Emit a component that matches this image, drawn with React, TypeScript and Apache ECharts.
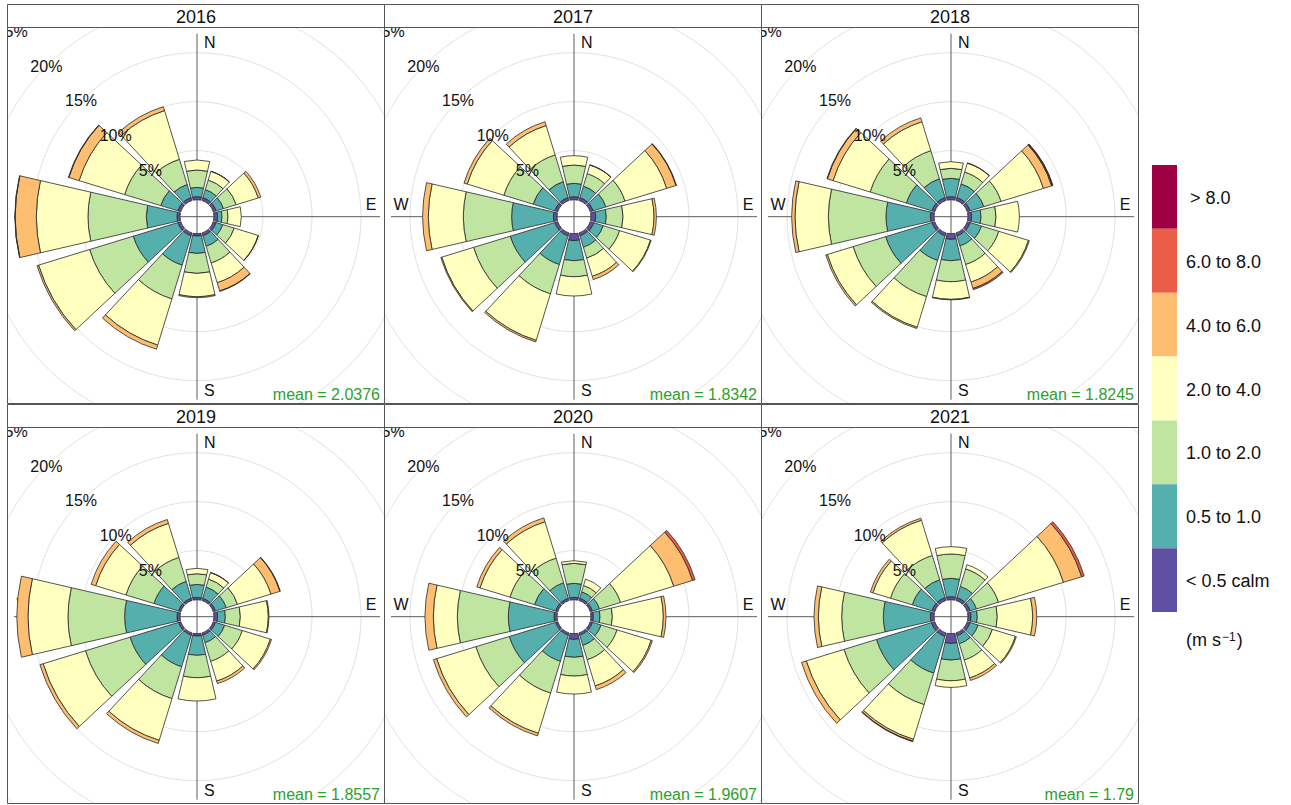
import React, { useEffect, useRef } from "react";
import * as echarts from "echarts";

const FONT = '"Liberation Sans", Arial, Helvetica, sans-serif';

const YEARS = ["2016", "2017", "2018", "2019", "2020", "2021"];
const MEANS = ["2.0376", "1.8342", "1.8245", "1.8557", "1.9607", "1.79"];
const DIRECTIONS = ["0", "30", "60", "90", "120", "150", "180", "210", "240", "270", "300", "330"];
const SPEED_BINS = ["< 0.5 calm", "0.5 to 1.0", "1.0 to 2.0", "2.0 to 4.0", "4.0 to 6.0", "6.0 to 8.0", "> 8.0"];
const BIN_COLORS = ["#5E4FA2", "#55AFAD", "#BFE5A0", "#FFFFBF", "#FDBF6F", "#EA5D47", "#9E0142"];
const RING_TICKS = [5, 10, 15, 20, 25];
const LEGEND_UNIT = "(m s{sup|\u22121})";

// frequency (%) : rows = speed bins (calm ... > 8.0), columns = directions (0 ... 330)
const FREQ_2016 = [
  [0.31, 0.31, 0.31, 0.37, 0.31, 0.31, 0.24, 0.31, 0.31, 0.31, 0.31, 0.31],
  [0.95, 0.85, 0.78, 0.45, 0.71, 1.12, 1.77, 3.13, 4.76, 3.13, 1.83, 1.39],
  [1.77, 1.02, 1.36, 0.61, 1.22, 1.77, 2.04, 3.6, 4.66, 5.95, 3.85, 2.69],
  [1.02, 0.92, 2.35, 1.36, 2.56, 2.11, 2.38, 4.93, 5.44, 5.27, 4.86, 5.2],
  [0, 0.03, 0.27, 0, 0.03, 0.88, 0.1, 0.44, 0.17, 2.16, 1.09, 0.41],
  [0, 0, 0, 0, 0, 0.04, 0, 0, 0, 0.03, 0.05, 0],
  [0, 0, 0, 0, 0, 0, 0, 0, 0, 0, 0, 0],
];
const FREQ_2017 = [
  [0.31, 0.31, 0.31, 0.48, 0.37, 0.31, 0.71, 0.31, 0.31, 0.37, 0.31, 0.31],
  [1.36, 1.22, 1.36, 1.08, 1.02, 1.22, 2.05, 3.06, 4.76, 4.26, 2.31, 1.7],
  [1.87, 1.33, 2.04, 1.71, 1.74, 1.16, 1.63, 3.13, 3.91, 4.93, 3.13, 2.85],
  [0.95, 0.92, 4.45, 3.16, 3.3, 1.94, 1.97, 4.96, 3.4, 3.57, 3.91, 3.13],
  [0, 0.03, 0.99, 0.24, 0.07, 0.34, 0, 0.17, 0.1, 0.58, 0.34, 0.41],
  [0, 0, 0.05, 0, 0, 0, 0, 0, 0, 0, 0, 0],
  [0, 0, 0, 0, 0, 0, 0, 0, 0, 0, 0, 0],
];
const FREQ_2018 = [
  [0.31, 0.31, 0.31, 0.37, 0.31, 0.31, 0.58, 0.31, 0.31, 0.37, 0.31, 0.31],
  [1.87, 1.46, 1.46, 0.96, 1.22, 1.08, 2.18, 2.62, 4.93, 4.53, 2.72, 2.0],
  [1.02, 1.26, 1.84, 1.53, 1.84, 1.98, 2.14, 3.87, 3.47, 5.88, 3.87, 3.0],
  [0.68, 0.95, 4.52, 2.38, 3.16, 1.87, 1.8, 3.27, 2.75, 3.4, 3.95, 3.09],
  [0, 0.03, 0.88, 0, 0.1, 0.68, 0.05, 0.13, 0.17, 0.34, 0.61, 0.41],
  [0, 0, 0.08, 0, 0, 0.13, 0, 0, 0, 0, 0.05, 0],
  [0, 0, 0.06, 0, 0, 0, 0, 0, 0, 0, 0, 0],
];
const FREQ_2019 = [
  [0.24, 0.24, 0.24, 0.37, 0.24, 0.24, 0.24, 0.24, 0.24, 0.31, 0.24, 0.24],
  [1.32, 1.19, 1.15, 0.79, 0.98, 0.81, 1.97, 3.37, 5.17, 5.34, 2.62, 1.8],
  [1.09, 0.85, 1.2, 1.53, 1.88, 1.98, 2.28, 3.4, 4.76, 5.78, 2.99, 2.55],
  [0.55, 0.68, 3.57, 2.85, 2.99, 2.11, 2.38, 4.45, 4.52, 4.08, 3.23, 3.64],
  [0, 0.03, 0.95, 0.07, 0.13, 0.27, 0, 0.34, 0.34, 1.14, 0.48, 0.41],
  [0, 0, 0.05, 0, 0, 0, 0, 0, 0, 0, 0, 0],
  [0, 0, 0, 0, 0, 0, 0, 0, 0, 0, 0, 0],
];
const FREQ_2020 = [
  [0.24, 0.24, 0.24, 0.24, 0.24, 0.24, 0.58, 0.24, 0.24, 0.31, 0.24, 0.24],
  [1.43, 0.68, 0.75, 0.68, 0.92, 1.09, 1.83, 2.79, 4.93, 4.66, 2.24, 1.66],
  [2.04, 0.68, 2.24, 1.26, 1.7, 1.53, 1.91, 3.4, 3.57, 5.2, 2.62, 2.62],
  [0.27, 0.68, 5.68, 5.2, 3.64, 2.79, 1.84, 4.28, 4.19, 2.45, 3.2, 3.88],
  [0, 0, 2.01, 0.27, 0.13, 0.4, 0, 0.28, 0.34, 0.85, 0.34, 0.41],
  [0, 0, 0.27, 0, 0, 0, 0, 0, 0, 0, 0, 0],
  [0, 0, 0, 0, 0, 0, 0, 0, 0, 0, 0, 0],
];
const FREQ_2021 = [
  [0.31, 0.31, 0.31, 0.31, 0.31, 0.31, 0.99, 0.37, 0.37, 0.37, 0.31, 0.31],
  [1.87, 1.19, 0.68, 0.64, 0.85, 0.85, 1.7, 3.92, 5.85, 4.8, 2.1, 1.9],
  [2.48, 1.87, 2.34, 2.04, 1.53, 1.73, 2.11, 3.36, 3.47, 4.25, 2.32, 2.59],
  [0.75, 0.44, 6.94, 3.61, 2.45, 1.91, 0.68, 3.71, 4.02, 2.38, 1.87, 3.77],
  [0, 0, 1.94, 0.41, 0.1, 0.27, 0, 0.2, 0.51, 0.44, 0.27, 0.21],
  [0, 0, 0.27, 0, 0, 0, 0, 0.05, 0, 0, 0, 0],
  [0, 0, 0, 0, 0, 0, 0, 0, 0, 0, 0, 0],
];
const FREQS = [FREQ_2016, FREQ_2017, FREQ_2018, FREQ_2019, FREQ_2020, FREQ_2021];

// layout
const COL_X = [8, 385, 762];
const ROW_Y = [5, 405];
const STRIP_H = 23;
const PANEL_W = 377;
const PANEL_H = 376;
const CX = 189;
const CY = 188.7;
const R_INNER = 17;
const R_OUTER = 311;
const R_MAX = 30;
const AXIS_LEN = 183;

function txt(text: string, x: number, y: number, size: number, align: string, vAlign: string, fill = "#111", z = 10): any {
  return {
    type: "text",
    x,
    y,
    z,
    silent: true,
    style: {
      text,
      fill,
      fontSize: size,
      fontFamily: FONT,
      align,
      verticalAlign: vAlign,
      textAlign: align,
      textVerticalAlign: vAlign,
    },
  };
}

function panelOption(freq: number[][], mean: string): any {
  const hidden = { axisLine: { show: false }, axisTick: { show: false }, axisLabel: { show: false }, splitLine: { show: false } };
  const graphics: any[] = [
    { type: "line", z: 1, silent: true, shape: { x1: CX, y1: CY - AXIS_LEN, x2: CX, y2: CY + AXIS_LEN }, style: { stroke: "#5c5c5c", lineWidth: 1 } },
    { type: "line", z: 1, silent: true, shape: { x1: CX - AXIS_LEN, y1: CY, x2: CX + AXIS_LEN, y2: CY }, style: { stroke: "#5c5c5c", lineWidth: 1 } },
    txt("N", CX + 7, CY - 174, 16, "left", "middle", "#111", 1),
    txt("E", CX + 174, CY - 12, 16, "center", "middle", "#111", 1),
    txt("S", CX + 7, CY + 174, 16, "left", "middle", "#111", 1),
    txt("W", CX - 173, CY - 12, 16, "center", "middle", "#111", 1),
    txt("mean = " + mean, CX + 183, CY + 178, 16, "right", "middle", "#2E9E2E", 10),
  ];
  const bars = SPEED_BINS.map((name, b) => ({
    type: "bar",
    name,
    coordinateSystem: "polar",
    polarIndex: 0,
    stack: "rose",
    barWidth: "86.667%",
    z: 2,
    silent: true,
    itemStyle: { color: BIN_COLORS[b], borderColor: "#2a2a2a", borderWidth: 0.8 },
    data: freq[b].map((v) => (v > 0 ? v : { value: 0, itemStyle: { borderWidth: 0, opacity: 0 } })),
  }));
  return {
    animation: false,
    polar: [
      { center: [CX, CY], radius: [R_INNER, R_OUTER] },
      { center: [CX, CY], radius: [R_INNER, R_OUTER] },
    ],
    angleAxis: [
      { polarIndex: 0, type: "category", data: DIRECTIONS, startAngle: 105, clockwise: true, ...hidden },
      { polarIndex: 1, type: "value", min: 0, max: 360, startAngle: 90, clockwise: true, ...hidden },
    ],
    radiusAxis: [
      { polarIndex: 0, type: "value", min: 0, max: R_MAX, ...hidden },
      {
        polarIndex: 1,
        type: "value",
        min: 0,
        max: R_MAX,
        interval: 5,
        axisLine: { show: false },
        axisTick: { show: false },
        axisLabel: { show: false },
        splitLine: { show: true, showMinLine: false, lineStyle: { color: "#e2e2e2", width: 1 } },
      },
    ],
    graphic: graphics,
    series: [
      ...bars,
      {
        type: "custom",
        coordinateSystem: "polar",
        polarIndex: 1,
        z: 6,
        silent: true,
        data: RING_TICKS.map((t) => [t, 315]),
        renderItem: (_params: any, api: any) => {
          const p = api.coord([api.value(0), api.value(1)]);
          return {
            type: "text",
            x: p[0],
            y: p[1],
            style: {
              text: api.value(0) + "%",
              fill: "#111",
              fontSize: 16,
              fontFamily: FONT,
              align: "center",
              verticalAlign: "middle",
              textAlign: "center",
              textVerticalAlign: "middle",
            },
          };
        },
      },
    ],
  };
}

function frameOption(): any {
  const els: any[] = [];
  YEARS.forEach((year, i) => {
    const x = COL_X[i % 3] - 0.5;
    const y = ROW_Y[Math.floor(i / 3)] - 0.5;
    els.push({ type: "rect", silent: true, shape: { x, y, width: PANEL_W, height: STRIP_H }, style: { fill: "#ffffff", stroke: "#555", lineWidth: 1 } });
    els.push(txt(year, x + PANEL_W / 2, y + STRIP_H / 2 + 0.5, 18, "center", "middle", "#111"));
    els.push({ type: "rect", silent: true, shape: { x, y: y + STRIP_H, width: PANEL_W, height: PANEL_H }, style: { fill: "none", stroke: "#555", lineWidth: 1 } });
  });
  const boxTop = 165;
  const boxH = 63.86;
  const n = SPEED_BINS.length;
  for (let k = 0; k < n; k++) {
    const b = n - 1 - k;
    const y = boxTop + k * boxH;
    els.push({ type: "rect", silent: true, shape: { x: 1152, y, width: 25, height: boxH }, style: { fill: BIN_COLORS[b], stroke: "none" } });
    els.push(txt(SPEED_BINS[b], b === n - 1 ? 1190 : 1186, y + boxH / 2 + 1, 18, "left", "middle", "#111"));
  }
  els.push({
    type: "text",
    x: 1186,
    y: 640,
    silent: true,
    style: {
      text: LEGEND_UNIT,
      fill: "#111",
      fontSize: 18,
      fontFamily: FONT,
      align: "left",
      verticalAlign: "middle",
      textAlign: "left",
      textVerticalAlign: "middle",
      rich: { sup: { fontSize: 12, fontFamily: FONT, fill: "#111", verticalAlign: "top", padding: [0, 1, 6, 1] } },
    },
  });
  return { animation: false, graphic: els };
}

function Panel({ index }: { index: number }) {
  const ref = useRef<HTMLDivElement>(null);
  useEffect(() => {
    const chart = echarts.init(ref.current as HTMLDivElement, null, { renderer: "svg" });
    chart.setOption(panelOption(FREQS[index], MEANS[index]));
    return () => chart.dispose();
  }, [index]);
  const left = COL_X[index % 3];
  const top = ROW_Y[Math.floor(index / 3)] + STRIP_H;
  return <div ref={ref} style={{ position: "absolute", left, top, width: PANEL_W, height: PANEL_H, overflow: "hidden" }} />;
}

function Frame() {
  const ref = useRef<HTMLDivElement>(null);
  useEffect(() => {
    const chart = echarts.init(ref.current as HTMLDivElement, null, { renderer: "svg" });
    chart.setOption(frameOption());
    return () => chart.dispose();
  }, []);
  return <div ref={ref} style={{ position: "absolute", left: 0, top: 0, width: 1291, height: 805, pointerEvents: "none", zIndex: 2 }} />;
}

export default function App() {
  return (
    <div style={{ position: "absolute", left: 0, top: 0, width: 1291, height: 805, background: "#ffffff", overflow: "hidden" }}>
      {YEARS.map((y, i) => (
        <Panel key={y} index={i} />
      ))}
      <Frame />
    </div>
  );
}
